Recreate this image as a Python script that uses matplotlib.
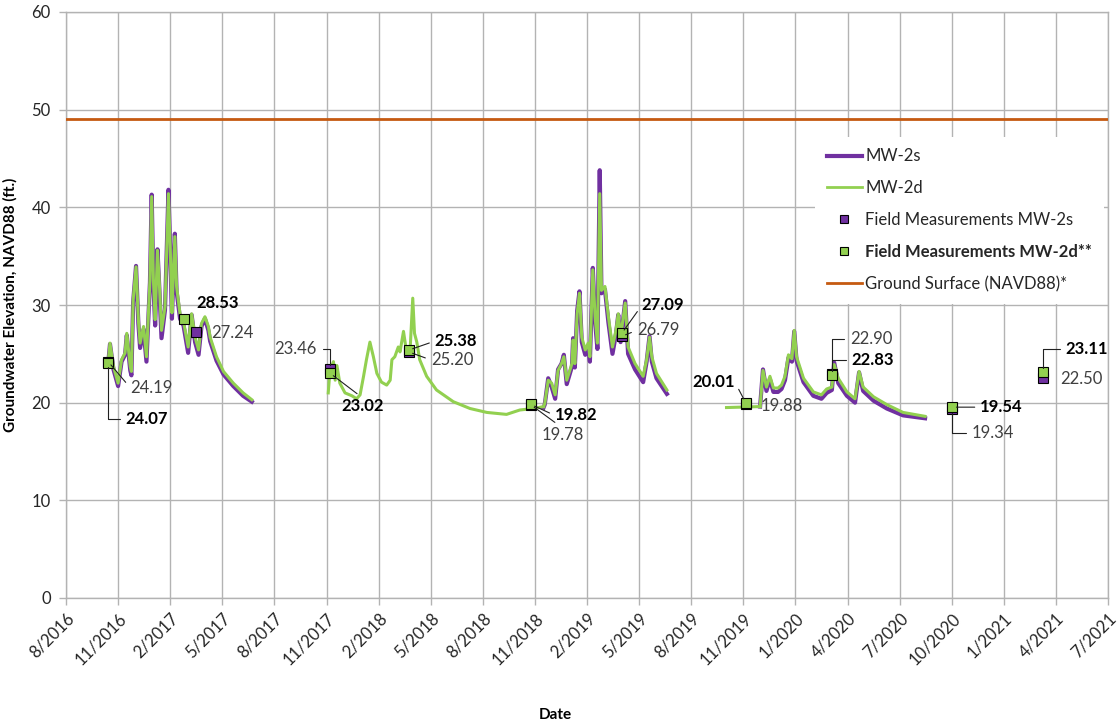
import matplotlib
matplotlib.use("Agg")
import matplotlib.pyplot as plt
from matplotlib.lines import Line2D
import pandas as pd

plt.rcParams['font.family'] = ['Lato', 'DejaVu Sans']

# ---------------- data ----------------
# Segment 2016-2017 (both wells)
s1_dates = ['2016-10-30', '2016-11-02', '2016-11-08', '2016-11-16', '2016-11-22', '2016-11-28',
            '2016-12-01', '2016-12-07', '2016-12-09', '2016-12-12', '2016-12-17', '2016-12-21',
            '2016-12-24', '2016-12-30', '2017-01-04', '2017-01-10', '2017-01-13', '2017-01-16',
            '2017-01-19', '2017-01-23', '2017-01-26', '2017-01-30', '2017-02-05', '2017-02-11',
            '2017-02-14', '2017-02-17', '2017-02-19', '2017-02-22', '2017-02-25', '2017-03-03',
            '2017-03-09', '2017-03-17', '2017-03-23', '2017-03-29', '2017-04-04', '2017-04-09',
            '2017-04-15', '2017-04-21', '2017-04-24', '2017-05-05', '2017-05-17', '2017-06-03',
            '2017-06-20', '2017-07-05']
s1_mw2d = [24.2, 26.1, 23.7, 22.0, 24.4, 25.1, 27.1, 23.7, 23.2, 30.5,
           33.9, 28.5, 26.1, 27.8, 24.7, 32.5, 41.1, 32.5, 28.5, 35.6,
           32.5, 27.4, 29.8, 41.4, 36.0, 29.2, 32.5, 37.0, 31.9, 29.1,
           28.3, 25.7, 29.1, 26.7, 25.4, 28.1, 28.8, 27.8, 26.7, 24.7,
           23.2, 22.0, 21.0, 20.3]
s1_mw2s = [24.1, 26.0, 23.4, 21.7, 24.2, 24.9, 26.9, 23.3, 22.8, 30.3,
           34.0, 28.1, 25.6, 27.5, 24.2, 32.3, 41.3, 32.1, 27.9, 35.7,
           32.0, 26.6, 29.5, 41.8, 35.8, 28.6, 32.2, 37.3, 31.4, 28.6,
           27.9, 25.1, 29.0, 26.2, 24.9, 27.8, 28.6, 27.4, 26.3, 24.3,
           22.9, 21.7, 20.7, 20.1]

# Segment 2017-2018 (MW-2d only)
s2_dates = ['2017-11-14', '2017-11-17', '2017-11-23', '2017-11-26', '2017-11-29', '2017-12-04',
            '2017-12-13', '2017-12-25', '2018-01-02', '2018-01-08', '2018-01-14', '2018-01-19',
            '2018-01-25', '2018-01-31', '2018-02-06', '2018-02-14', '2018-02-23', '2018-03-01',
            '2018-03-04', '2018-03-09', '2018-03-15', '2018-03-18', '2018-03-24', '2018-03-28',
            '2018-04-01', '2018-04-04', '2018-04-09', '2018-04-12', '2018-04-16', '2018-04-21',
            '2018-05-03', '2018-05-20', '2018-06-18', '2018-07-17', '2018-08-15', '2018-09-18',
            '2018-10-11', '2018-11-03', '2018-11-21']
s2_mw2d = [21.0, 23.3, 24.2, 22.3, 23.8, 22.0, 21.0, 20.7, 20.4, 20.8,
           22.7, 24.4, 26.2, 24.7, 23.0, 22.1, 21.8, 22.3, 24.4, 24.7,
           25.7, 25.2, 27.3, 25.7, 25.4, 24.9, 30.7, 27.1, 26.2, 24.4,
           22.7, 21.3, 20.1, 19.4, 19.0, 18.8, 19.25, 19.4, 19.6]

# Segment 2018-2019 (both wells)
s3_dates = ['2018-11-21', '2018-11-23', '2018-11-29', '2018-12-05', '2018-12-11', '2018-12-16',
            '2018-12-22', '2018-12-26', '2018-12-31', '2019-01-09', '2019-01-11', '2019-01-14',
            '2019-01-18', '2019-01-22', '2019-01-26', '2019-02-01', '2019-02-06', '2019-02-09',
            '2019-02-14', '2019-02-18', '2019-02-22', '2019-02-26', '2019-03-01', '2019-03-07',
            '2019-03-13', '2019-03-20', '2019-03-26', '2019-03-30', '2019-04-03', '2019-04-11',
            '2019-04-16', '2019-04-28', '2019-05-12', '2019-05-18', '2019-05-23', '2019-05-27',
            '2019-06-04', '2019-06-22']
s3_mw2d = [19.6, 19.9, 22.3, 22.0, 20.8, 23.3, 24.0, 24.7, 22.3, 24.0,
           26.4, 24.0, 29.1, 31.2, 26.7, 25.4, 26.1, 24.7, 33.6, 28.8,
           26.1, 41.4, 31.5, 31.9, 28.8, 25.7, 27.4, 29.1, 26.7, 30.2,
           25.7, 24.0, 22.7, 24.4, 26.7, 24.7, 23.0, 21.3]
s3_mw2s = [19.5, 19.8, 22.5, 21.6, 20.4, 23.4, 24.0, 24.9, 21.9, 23.7,
           26.6, 23.6, 29.4, 31.4, 26.2, 24.9, 25.8, 24.2, 33.8, 28.3,
           25.5, 43.8, 31.2, 31.6, 28.2, 25.0, 27.0, 29.0, 26.2, 30.4,
           25.0, 23.4, 22.1, 24.2, 26.8, 24.2, 22.5, 20.9]

# Segment autumn 2019 (MW-2d only)
s4a_dates = ['2019-10-03', '2019-11-30']
s4a_mw2d = [19.5, 19.6]

# Segment 2019-2020 (both wells)
s4_dates = ['2019-11-30', '2019-12-05', '2019-12-11', '2019-12-17', '2019-12-23', '2019-12-31',
            '2020-01-06', '2020-01-12', '2020-01-18', '2020-01-24', '2020-01-28', '2020-02-01',
            '2020-02-13', '2020-03-01', '2020-03-15', '2020-03-24', '2020-04-02', '2020-04-06',
            '2020-04-13', '2020-04-28', '2020-05-12', '2020-05-19', '2020-05-26', '2020-06-13',
            '2020-07-06', '2020-08-03', '2020-09-10']
s4_mw2d = [19.6, 23.3, 21.6, 22.7, 21.5, 21.5, 21.8, 22.7, 24.9, 24.5,
           27.4, 24.7, 22.5, 21.1, 20.8, 21.4, 21.6, 23.9, 22.5, 21.1,
           20.4, 23.2, 21.6, 20.6, 19.8, 19.0, 18.6]
s4_mw2s = [19.6, 23.4, 21.2, 22.4, 21.1, 21.1, 21.4, 22.3, 24.6, 24.2,
           27.3, 24.3, 22.1, 20.7, 20.4, 21.0, 21.3, 24.1, 22.0, 20.7,
           20.0, 23.1, 21.2, 20.2, 19.4, 18.7, 18.4]

# Field measurements
fm_mw2s_dates = ['2016-10-30', '2017-03-31', '2017-11-17', '2018-04-02', '2018-10-30',
                 '2019-04-05', '2019-11-05', '2020-04-02', '2020-10-27', '2021-04-02']
fm_mw2s_values = [24.19, 27.24, 23.46, 25.20, 19.78, 26.79, 19.88, 22.90, 19.34, 22.50]
fm_mw2d_dates = ['2016-10-30', '2017-03-10', '2017-11-17', '2018-04-02', '2018-10-30',
                 '2019-04-05', '2019-11-05', '2020-04-02', '2020-10-27', '2021-04-02']
fm_mw2d_values = [24.07, 28.53, 23.02, 25.38, 19.82, 27.09, 20.01, 22.83, 19.54, 23.11]

ground_surface = 49.0

# axis settings
axis_start = '2016-08-18'
tick_step_days = 90
n_ticks = 21
y_ticks = [0, 10, 20, 30, 40, 50, 60]

# ---------------- styling / layout ----------------
PURPLE = '#7030A0'
GREEN = '#92D050'
ORANGE = '#C55A11'
GRID = '#B3B3B3'
TXT = '#404040'
FS = 12

# label layout: (dx px, dy px, ha, relpos, leader style)
mw2s_label_layout = [
    (22, -26, 'left', (0, 0.5), 'line'),
    (15, -1, 'left', (0, 0.5), 'none'),
    (-13, 20, 'right', (1, 0.5), 'elbow'),
    (22, -8, 'left', (0, 0.5), 'line'),
    (11, -30, 'left', (0.45, 1), 'line'),
    (15, 6, 'left', (0, 0.5), 'line'),
    (15, -2, 'left', (0, 0.5), 'none'),
    (18, 35, 'left', (0, 0.5), 'elbow'),
    (19, -24, 'left', (0, 0.5), 'elbow'),
    (17, -1, 'left', (0, 0.5), 'none'),
]
mw2d_label_layout = [
    (17, -56, 'left', (0, 0.5), 'elbow'),
    (12, 16, 'left', (0, 0.5), 'none'),
    (33, -33, 'center', (0.5, 1), 'line'),
    (26, 9, 'left', (0, 0.5), 'line'),
    (24, -11, 'left', (0, 0.5), 'line'),
    (20, 28, 'left', (0, 0.5), 'line'),
    (-11, 21, 'right', (1, 0.5), 'line'),
    (20, 15, 'left', (0, 0.5), 'elbow'),
    (28, 0, 'left', (0, 0.5), 'line'),
    (22, 23, 'left', (0, 0.5), 'elbow'),
]

fig = plt.figure(figsize=(11.18, 7.2), dpi=100)
ax = fig.add_axes([66 / 1118, 1 - 598 / 720, 1042 / 1118, 586 / 720])

to_dt = pd.to_datetime

# lines
ax.plot(to_dt(s1_dates), s1_mw2s, color=PURPLE, lw=3.0, zorder=2, solid_joinstyle='round')
ax.plot(to_dt(s3_dates), s3_mw2s, color=PURPLE, lw=3.0, zorder=2, solid_joinstyle='round')
ax.plot(to_dt(s4_dates), s4_mw2s, color=PURPLE, lw=3.0, zorder=2, solid_joinstyle='round')
for d, v in [(s1_dates, s1_mw2d), (s2_dates, s2_mw2d), (s3_dates, s3_mw2d),
             (s4a_dates, s4a_mw2d), (s4_dates, s4_mw2d)]:
    ax.plot(to_dt(d), v, color=GREEN, lw=2.2, zorder=3, solid_joinstyle='round')

ax.axhline(ground_surface, color=ORANGE, lw=2.0, zorder=3)

# field measurement markers
ax.plot(to_dt(fm_mw2s_dates), fm_mw2s_values, ls='none', marker='s', ms=7.5,
        mfc=PURPLE, mec='black', mew=0.8, zorder=5)
ax.plot(to_dt(fm_mw2d_dates), fm_mw2d_values, ls='none', marker='s', ms=7.5,
        mfc=GREEN, mec='black', mew=0.8, zorder=6)


def add_labels(dates, values, layout, bold):
    for d, v, (dx, dy, ha, rp, style) in zip(to_dt(dates), values, layout):
        kw = dict(xy=(d, v), xytext=(dx, dy), textcoords='offset pixels',
                  ha=ha, va='center', fontsize=FS,
                  fontweight='bold' if bold else 'normal',
                  color='black' if bold else TXT, zorder=7, annotation_clip=False)
        if style != 'none':
            cs = 'angle,angleA=0,angleB=90,rad=0' if style == 'elbow' else 'arc3'
            kw['arrowprops'] = dict(arrowstyle='-', color='#202020', lw=0.8,
                                    shrinkA=2, shrinkB=3, relpos=rp,
                                    connectionstyle=cs)
        ax.annotate(f'{v:.2f}', **kw)


add_labels(fm_mw2s_dates, fm_mw2s_values, mw2s_label_layout, False)
add_labels(fm_mw2d_dates, fm_mw2d_values, mw2d_label_layout, True)

# axes
start = pd.Timestamp(axis_start)
ticks = [start + pd.Timedelta(days=tick_step_days * i) for i in range(n_ticks)]
ax.set_xlim(ticks[0], ticks[-1])
ax.set_xticks(ticks)
ax.set_xticklabels([f'{t.month}/{t.year}' for t in ticks], rotation=45, ha='right',
                   rotation_mode='anchor', fontsize=FS, color='#262626')
ax.set_ylim(0, 60)
ax.set_yticks(y_ticks)
ax.set_yticklabels([str(t) for t in y_ticks], fontsize=FS, color='#262626')
ax.tick_params(axis='both', direction='out', length=5, width=1, color=GRID)
ax.tick_params(axis='x', pad=4)
ax.tick_params(axis='y', pad=6)
ax.grid(True, color=GRID, lw=1.0, zorder=0)
ax.set_axisbelow(True)
for sp in ax.spines.values():
    sp.set_color(GRID)
    sp.set_linewidth(1.0)

ax.set_ylabel('Groundwater Elevation, NAVD88 (ft.)', fontsize=11, fontweight='bold', color='black')
ax.yaxis.set_label_coords(-0.046, 0.5)
ax.set_xlabel('Date', fontsize=11, fontweight='bold', color='black')
ax.xaxis.set_label_coords(0.470, -0.188)

# legend
handles = [
    Line2D([], [], color=PURPLE, lw=3.0),
    Line2D([], [], color=GREEN, lw=2.0),
    Line2D([], [], ls='none', marker='s', ms=6, mfc=PURPLE, mec='black', mew=0.8),
    Line2D([], [], ls='none', marker='s', ms=6, mfc=GREEN, mec='black', mew=0.8),
    Line2D([], [], color=ORANGE, lw=2.0),
]
labels = ['MW-2s', 'MW-2d', 'Field Measurements MW-2s', 'Field Measurements MW-2d**',
          'Ground Surface (NAVD88)*']
leg = ax.legend(handles, labels, loc='upper left', bbox_to_anchor=(0.719, 0.787),
                frameon=True, fancybox=False, framealpha=1.0, facecolor='white',
                edgecolor='none', fontsize=FS, handlelength=2.1, handletextpad=0.2,
                labelspacing=0.95, borderpad=0.7, borderaxespad=0)
for t in leg.get_texts():
    t.set_color('#262626')
leg.get_texts()[3].set_fontweight('bold')
leg.set_zorder(10)

fig.savefig('out.png', dpi=100)
